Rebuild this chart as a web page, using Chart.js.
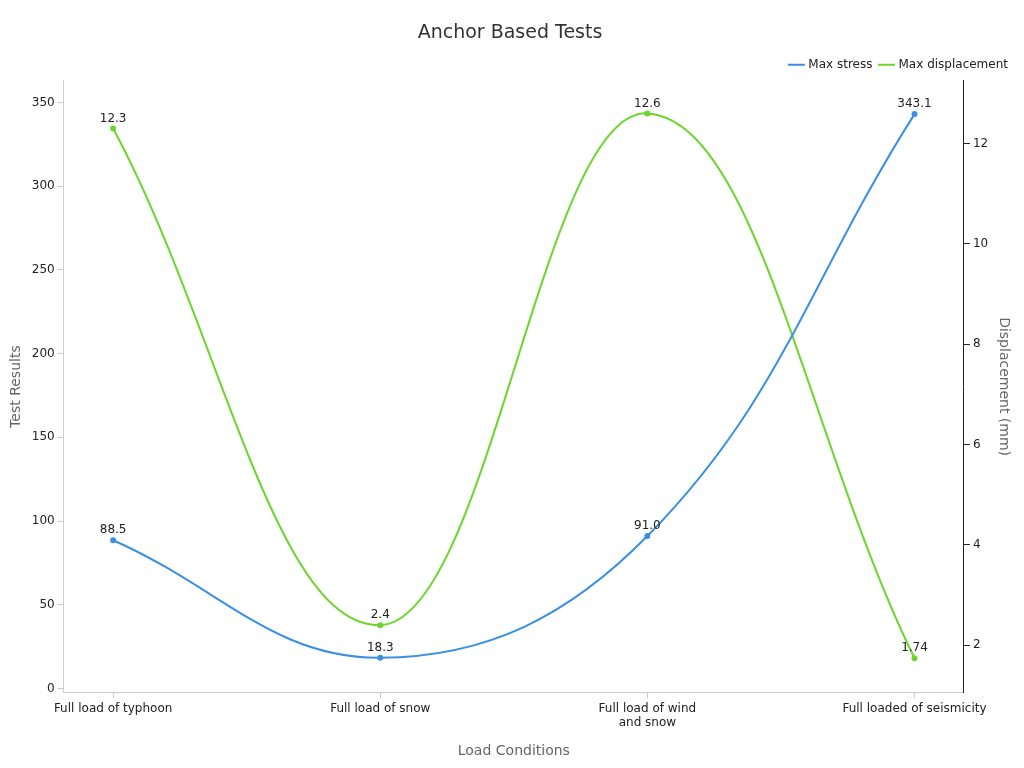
<!DOCTYPE html>
<html>
<head>
<meta charset="utf-8">
<script src="https://cdn.jsdelivr.net/npm/chart.js@4/dist/chart.umd.min.js"></script>
<style>
  html, body { margin: 0; padding: 0; background: #fff; }
  #wrap { width: 1024px; height: 768px; }
</style>
</head>
<body>
<div id="wrap"><canvas id="chart" width="1024" height="768"></canvas></div>
<script>
// data
const categories = ['Full load of typhoon', 'Full load of snow', ['Full load of wind', 'and snow'], 'Full loaded of seismicity'];
const maxStress = [88.5, 18.3, 91.0, 343.1];
const maxDisplacement = [12.3, 2.4, 12.6, 1.74];
const stressLabels = ['88.5', '18.3', '91.0', '343.1'];
const dispLabels = ['12.3', '2.4', '12.6', '1.74'];
const leftTicks = [0, 50, 100, 150, 200, 250, 300, 350];
const rightTicks = [2, 4, 6, 8, 10, 12];

const blue = '#3b8fe4';
const green = '#6dd62e';
const font = "'DejaVu Sans', sans-serif";

// values above each point
const pointLabels = {
    id: 'pointLabels',
    afterDatasetsDraw(chart) {
        const ctx = chart.ctx;
        ctx.save();
        ctx.font = '12px ' + font;
        ctx.fillStyle = '#222';
        ctx.textAlign = 'center';
        ctx.textBaseline = 'bottom';
        chart.data.datasets.forEach((ds, i) => {
            chart.getDatasetMeta(i).data.forEach((pt, j) => {
                ctx.fillText(ds.labelsText[j], pt.x, pt.y - 4);
            });
        });
        ctx.restore();
    }
};

const toPoints = arr => arr.map((v, i) => ({ x: i, y: v }));

new Chart(document.getElementById('chart'), {
    type: 'line',
    data: {
        datasets: [{
            label: 'Max stress',
            data: toPoints(maxStress),
            labelsText: stressLabels,
            yAxisID: 'y',
            borderColor: blue,
            backgroundColor: blue,
            borderWidth: 2,
            pointRadius: 2,
            tension: 0.4
        }, {
            label: 'Max displacement',
            data: toPoints(maxDisplacement),
            labelsText: dispLabels,
            yAxisID: 'y1',
            borderColor: green,
            backgroundColor: green,
            borderWidth: 2,
            pointRadius: 2,
            tension: 0.4
        }]
    },
    options: {
        responsive: false,
        animation: false,
        layout: { padding: { left: 4, right: 8, top: 12, bottom: 4 } },
        plugins: {
            title: {
                display: true,
                text: 'Anchor Based Tests',
                color: '#333',
                font: { family: font, size: 19, weight: 'normal' },
                padding: { top: 10, bottom: 6 }
            },
            legend: {
                align: 'end',
                labels: {
                    usePointStyle: true,
                    pointStyle: 'line',
                    boxWidth: 30,
                    padding: 8,
                    color: '#222',
                    font: { family: font, size: 12 }
                }
            },
            tooltip: { enabled: false }
        },
        scales: {
            x: {
                type: 'linear',
                min: -0.185,
                max: 3.185,
                afterBuildTicks: axis => { axis.ticks = [0, 1, 2, 3].map(v => ({ value: v })); },
                grid: { display: true, drawOnChartArea: false, color: '#ccc', tickLength: 6 },
                border: { color: '#ccc' },
                ticks: {
                    color: '#222', font: { family: font, size: 12 }, maxRotation: 0,
                    callback: v => categories[v]
                },
                title: { display: true, text: 'Load Conditions', color: '#666', font: { family: font, size: 14 }, padding: { top: 10 } }
            },
            y: {
                position: 'left',
                min: -2.4,
                max: 363,
                afterBuildTicks: axis => { axis.ticks = leftTicks.map(v => ({ value: v })); },
                grid: { display: true, drawOnChartArea: false, color: '#ccc', tickLength: 6 },
                border: { color: '#ccc' },
                ticks: { color: '#222', font: { family: font, size: 12 } },
                title: { display: true, text: 'Test Results', color: '#666', font: { family: font, size: 14 } }
            },
            y1: {
                position: 'right',
                min: 1.06,
                max: 13.25,
                afterBuildTicks: axis => { axis.ticks = rightTicks.map(v => ({ value: v })); },
                grid: { display: true, drawOnChartArea: false, color: '#222', tickLength: 6 },
                border: { color: '#222' },
                ticks: { color: '#222', font: { family: font, size: 12 } },
                title: { display: true, text: 'Displacement (mm)', color: '#666', font: { family: font, size: 14 } }
            }
        }
    },
    plugins: [pointLabels]
});
</script>
</body>
</html>
